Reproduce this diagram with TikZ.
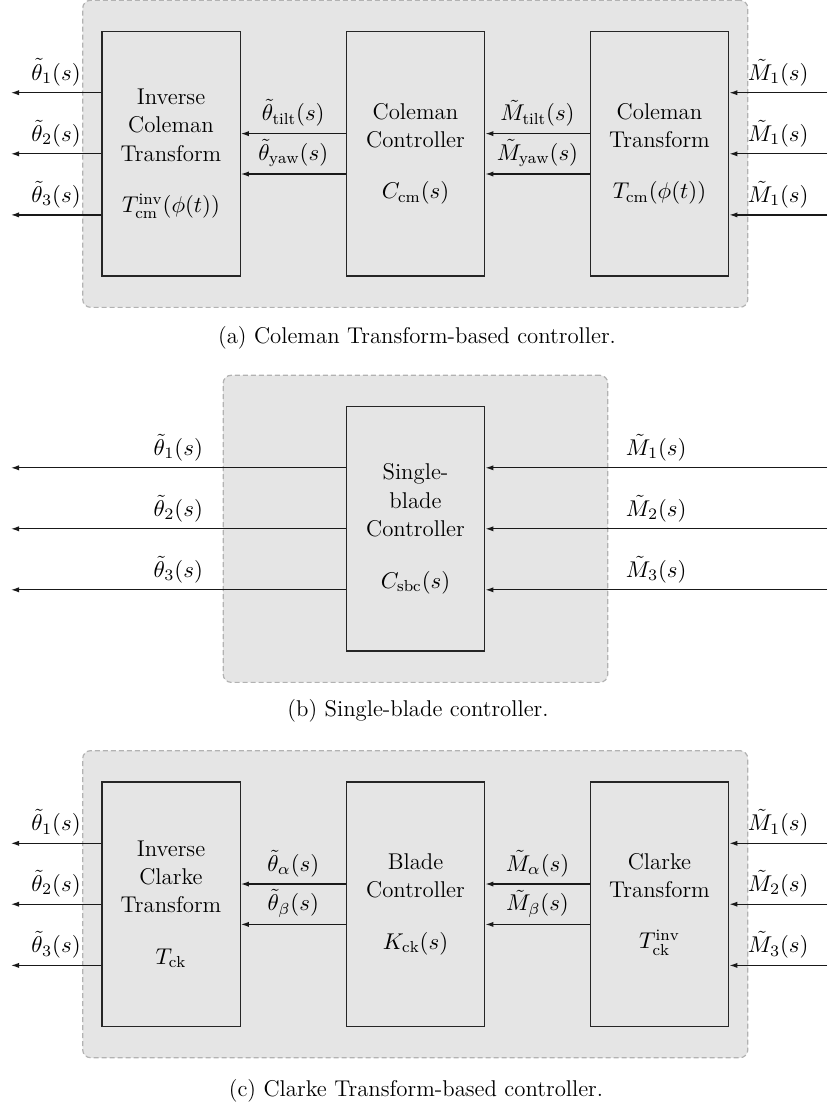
\RequirePackage{fix-cm}
\documentclass[tikz,border=0pt]{standalone}
\usepackage{fontspec}
\usetikzlibrary{arrows.meta,fit,backgrounds}

\tikzset{
  every node/.style={font=\fontsize{11.4pt}{14.2pt}\selectfont},
  blockbox/.style={draw=black!85, line width=0.7pt, minimum width=69.2pt,
    minimum height=122.15pt, align=center, inner sep=0pt},
  panelbox/.style={draw=black!30, fill=black!10, line width=0.6pt,
    dash pattern=on 2.5pt off 1.5pt, rounded corners=4pt, inner ysep=15.35pt},
  sig/.style={draw=black!90, line width=0.6pt, -{Latex[length=4pt,width=2.6pt]}},
  lbl/.style={above, midway, inner sep=3.2pt},
  captxt/.style={anchor=base},
}
\newcommand{\gapline}{\\[11.5pt]}

\begin{document}
\begin{tikzpicture}[x=0.5pt, y=-0.5pt]
\useasboundingbox (0,0) rectangle (827,1104);

% ---------------- (a) Coleman transform-based controller ----------------
\node[blockbox] (ai) at (171,153.8) {Inverse\\Coleman\\Transform\gapline$T^{\mathrm{inv}}_{\mathrm{cm}}(\phi(t))$};
\node[blockbox] (ac) at (415.5,153.8) {Coleman\\Controller\gapline$C_{\mathrm{cm}}(s)$};
\node[blockbox] (at) at (659.5,153.8) {Coleman\\Transform\gapline$T_{\mathrm{cm}}(\phi(t))$};
\begin{scope}[on background layer]
  \node[panelbox, fit=(ai)(at), inner xsep=9.2pt] (pa) {};
\end{scope}

\coordinate (ao1) at (11,92.7);
\coordinate (ao2) at (11,153.8);
\coordinate (ao3) at (11,214.9);
\coordinate (an1) at (827,92.7);
\coordinate (an2) at (827,153.8);
\coordinate (an3) at (827,214.9);

\draw[sig] (ai.west |- ao1) -- node[lbl]{$\tilde{\theta}_1(s)$} (ao1);
\draw[sig] (ai.west |- ao2) -- node[lbl]{$\tilde{\theta}_2(s)$} (ao2);
\draw[sig] (ai.west |- ao3) -- node[lbl]{$\tilde{\theta}_3(s)$} (ao3);

\draw[sig] ([yshift=10.1pt]ac.west) -- node[lbl]{$\tilde{\theta}_{\mathrm{tilt}}(s)$} ([yshift=10.1pt]ai.east);
\draw[sig] ([yshift=-10.1pt]ac.west) -- node[lbl]{$\tilde{\theta}_{\mathrm{yaw}}(s)$} ([yshift=-10.1pt]ai.east);
\draw[sig] ([yshift=10.1pt]at.west) -- node[lbl]{$\tilde{M}_{\mathrm{tilt}}(s)$} ([yshift=10.1pt]ac.east);
\draw[sig] ([yshift=-10.1pt]at.west) -- node[lbl]{$\tilde{M}_{\mathrm{yaw}}(s)$} ([yshift=-10.1pt]ac.east);

\draw[sig] (an1) -- node[lbl]{$\tilde{M}_1(s)$} (at.east |- an1);
\draw[sig] (an2) -- node[lbl]{$\tilde{M}_1(s)$} (at.east |- an2);
\draw[sig] (an3) -- node[lbl]{$\tilde{M}_1(s)$} (at.east |- an3);

\node[captxt] (capa) at (417,343) {(a) Coleman Transform-based controller.};

% ---------------- (b) Single-blade controller ----------------
\node[blockbox] (sb) at (415.5,528.8) {Single-\\blade\\Controller\gapline$C_{\mathrm{sbc}}(s)$};
\begin{scope}[on background layer]
  \node[panelbox, fit=(sb), inner xsep=61.2pt] (pb) {};
\end{scope}

\coordinate (bo1) at (11,467.8);
\coordinate (bo2) at (11,528.8);
\coordinate (bo3) at (11,589.8);
\coordinate (bn1) at (827,467.8);
\coordinate (bn2) at (827,528.8);
\coordinate (bn3) at (827,589.8);

\draw[sig] (sb.west |- bo1) -- node[lbl]{$\tilde{\theta}_1(s)$} (bo1);
\draw[sig] (sb.west |- bo2) -- node[lbl]{$\tilde{\theta}_2(s)$} (bo2);
\draw[sig] (sb.west |- bo3) -- node[lbl]{$\tilde{\theta}_3(s)$} (bo3);
\draw[sig] (bn1) -- node[lbl]{$\tilde{M}_1(s)$} (sb.east |- bn1);
\draw[sig] (bn2) -- node[lbl]{$\tilde{M}_2(s)$} (sb.east |- bn2);
\draw[sig] (bn3) -- node[lbl]{$\tilde{M}_3(s)$} (sb.east |- bn3);

\node[captxt] (capb) at (418,716) {(b) Single-blade controller.};

% ---------------- (c) Clarke transform-based controller ----------------
\node[blockbox] (ki) at (171,904.2) {Inverse\\Clarke\\Transform\gapline$T_{\mathrm{ck}}$};
\node[blockbox] (kc) at (415.5,904.2) {Blade\\Controller\gapline$K_{\mathrm{ck}}(s)$};
\node[blockbox] (kt) at (659.5,904.2) {Clarke\\Transform\gapline$T^{\mathrm{inv}}_{\mathrm{ck}}$};
\begin{scope}[on background layer]
  \node[panelbox, fit=(ki)(kt), inner xsep=9.2pt] (pc) {};
\end{scope}

\coordinate (co1) at (11,843.3);
\coordinate (co2) at (11,904.2);
\coordinate (co3) at (11,965.4);
\coordinate (cn1) at (827,843.3);
\coordinate (cn2) at (827,904.2);
\coordinate (cn3) at (827,965.4);

\draw[sig] (ki.west |- co1) -- node[lbl]{$\tilde{\theta}_1(s)$} (co1);
\draw[sig] (ki.west |- co2) -- node[lbl]{$\tilde{\theta}_2(s)$} (co2);
\draw[sig] (ki.west |- co3) -- node[lbl]{$\tilde{\theta}_3(s)$} (co3);

\draw[sig] ([yshift=10.1pt]kc.west) -- node[lbl]{$\tilde{\theta}_{\alpha}(s)$} ([yshift=10.1pt]ki.east);
\draw[sig] ([yshift=-10.1pt]kc.west) -- node[lbl]{$\tilde{\theta}_{\beta}(s)$} ([yshift=-10.1pt]ki.east);
\draw[sig] ([yshift=10.1pt]kt.west) -- node[lbl]{$\tilde{M}_{\alpha}(s)$} ([yshift=10.1pt]kc.east);
\draw[sig] ([yshift=-10.1pt]kt.west) -- node[lbl]{$\tilde{M}_{\beta}(s)$} ([yshift=-10.1pt]kc.east);

\draw[sig] (cn1) -- node[lbl]{$\tilde{M}_1(s)$} (kt.east |- cn1);
\draw[sig] (cn2) -- node[lbl]{$\tilde{M}_2(s)$} (kt.east |- cn2);
\draw[sig] (cn3) -- node[lbl]{$\tilde{M}_3(s)$} (kt.east |- cn3);

\node[captxt] (capc) at (416,1096) {(c) Clarke Transform-based controller.};
\end{tikzpicture}
\end{document}
